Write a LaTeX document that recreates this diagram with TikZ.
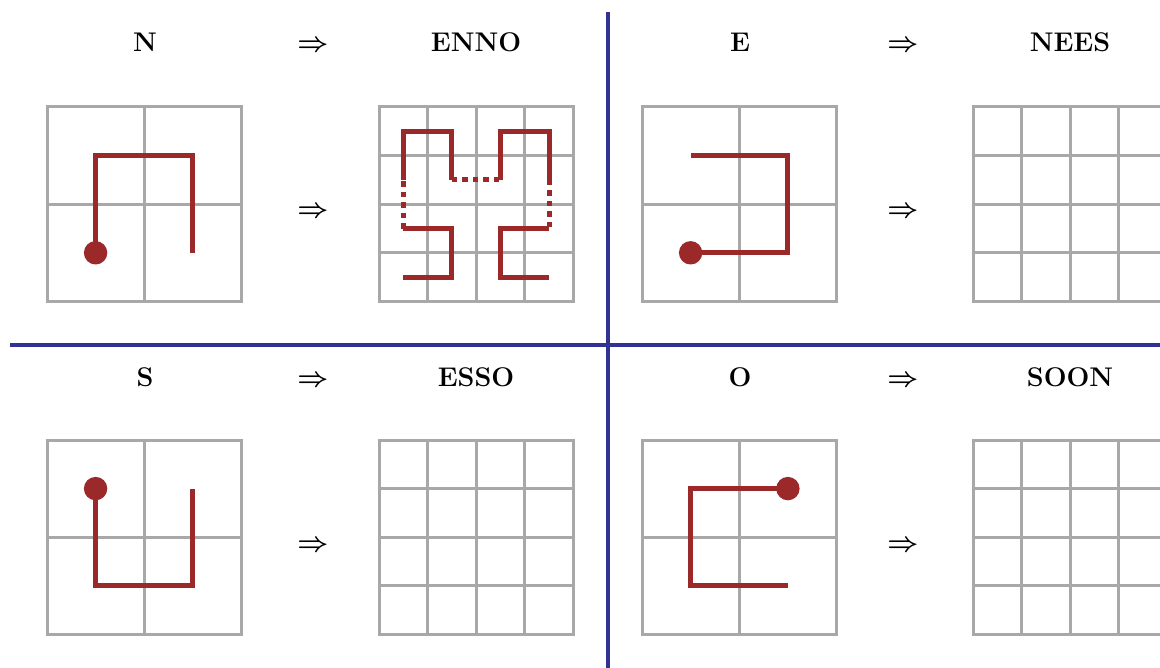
\RequirePackage{fix-cm}
\documentclass[tikz,border=0pt]{standalone}
\definecolor{gridgray}{RGB}{168,168,168}
\definecolor{curvered}{RGB}{155,41,41}
\definecolor{sepblue}{RGB}{50,50,150}
\tikzset{
  gridline/.style={draw=gridgray, line width=3pt},
  curve/.style={draw=curvered, line width=5pt, line join=miter},
  dotcurve/.style={draw=curvered, line width=5pt, dash pattern=on 5.5pt off 5pt},
  startdot/.style={fill=curvered},
  sep/.style={draw=sepblue, line width=4pt},
  lbl/.style={font=\bfseries\fontsize{27}{30}\selectfont, anchor=base, inner sep=0pt},
  arr/.style={font=\boldmath\fontsize{27}{30}\selectfont, anchor=base, inner sep=0pt},
  biggrid/.pic={
    \draw[gridline] (0,0) rectangle (194.5,194.5);
    \draw[gridline] (97.25,0) -- (97.25,194.5) (0,97.25) -- (194.5,97.25);
  },
  smallgrid/.pic={
    \draw[gridline] (0,0) rectangle (194.5,194.5);
    \foreach \k in {48.625,97.25,145.875} {
      \draw[gridline] (\k,0) -- (\k,194.5) (0,\k) -- (194.5,\k);
    }
  }
}
\begin{document}
\begin{tikzpicture}[x=1pt,y=-1pt]
\useasboundingbox (0,0) rectangle (1160,668);
\clip (0,0) rectangle (1160,668);
\fill[white] (0,0) rectangle (1160,668);

% separators
\coordinate (vt) at (608,12);
\coordinate (vb) at (608,668);
\coordinate (hl) at (10,345);
\coordinate (hr) at (1160,345);
\draw[sep] (vt) -- (vb);
\draw[sep] (hl) -- (hr);

% titles
\node[lbl] (tN) at (145,52) {N};
\node[arr] (aN) at (313,52) {$\Rightarrow$};
\node[lbl] (tENNO) at (476,52) {ENNO};
\node[lbl] (tE) at (740,52) {E};
\node[arr] (aE) at (903,52) {$\Rightarrow$};
\node[lbl] (tNEES) at (1070,52) {NEES};
\node[lbl] (tS) at (145,387) {S};
\node[arr] (aS) at (313,387) {$\Rightarrow$};
\node[lbl] (tESSO) at (476,387) {ESSO};
\node[lbl] (tO) at (740,387) {O};
\node[arr] (aO) at (903,387) {$\Rightarrow$};
\node[lbl] (tSOON) at (1070,387) {SOON};

% middle arrows
\node[arr] (mN) at (313,218) {$\Rightarrow$};
\node[arr] (mE) at (903,218) {$\Rightarrow$};
\node[arr] (mS) at (313,551) {$\Rightarrow$};
\node[arr] (mO) at (903,551) {$\Rightarrow$};

% grids
\pic at (47,107) {biggrid};
\pic at (379,107) {smallgrid};
\pic at (642,107) {biggrid};
\pic at (973,107) {smallgrid};
\pic at (47,440) {biggrid};
\pic at (379,440) {smallgrid};
\pic at (642,440) {biggrid};
\pic at (973,440) {smallgrid};

% N curve
\draw[curve] (95.6,252.8) -- (95.6,155.6) -- (192.9,155.6) -- (192.9,252.8);
\fill[startdot] (95.6,252.8) circle (11.7);

% ENNO curve
\begin{scope}[shift={(379,107)}]
  \draw[curve] (24.3,170.2) -- (72.9,170.2) -- (72.9,121.6) -- (24.3,121.6);
  \draw[dotcurve] (24.3,121.6) -- (24.3,73);
  \draw[curve] (24.3,73) -- (24.3,24.3) -- (72.9,24.3) -- (72.9,73);
  \draw[dotcurve] (72.9,73) -- (121.6,73);
  \draw[curve] (121.6,73) -- (121.6,24.3) -- (170.2,24.3) -- (170.2,73);
  \draw[dotcurve] (170.2,73) -- (170.2,121.6);
  \draw[curve] (170.2,121.6) -- (121.6,121.6) -- (121.6,170.2) -- (170.2,170.2);
\end{scope}

% E curve
\draw[curve] (690.6,252.8) -- (787.9,252.8) -- (787.9,155.6) -- (690.6,155.6);
\fill[startdot] (690.6,252.8) circle (11.7);

% S curve
\draw[curve] (95.6,488.6) -- (95.6,585.9) -- (192.9,585.9) -- (192.9,488.6);
\fill[startdot] (95.6,488.6) circle (11.7);

% O curve
\draw[curve] (787.9,488.6) -- (690.6,488.6) -- (690.6,585.9) -- (787.9,585.9);
\fill[startdot] (787.9,488.6) circle (11.7);
\end{tikzpicture}
\end{document}
